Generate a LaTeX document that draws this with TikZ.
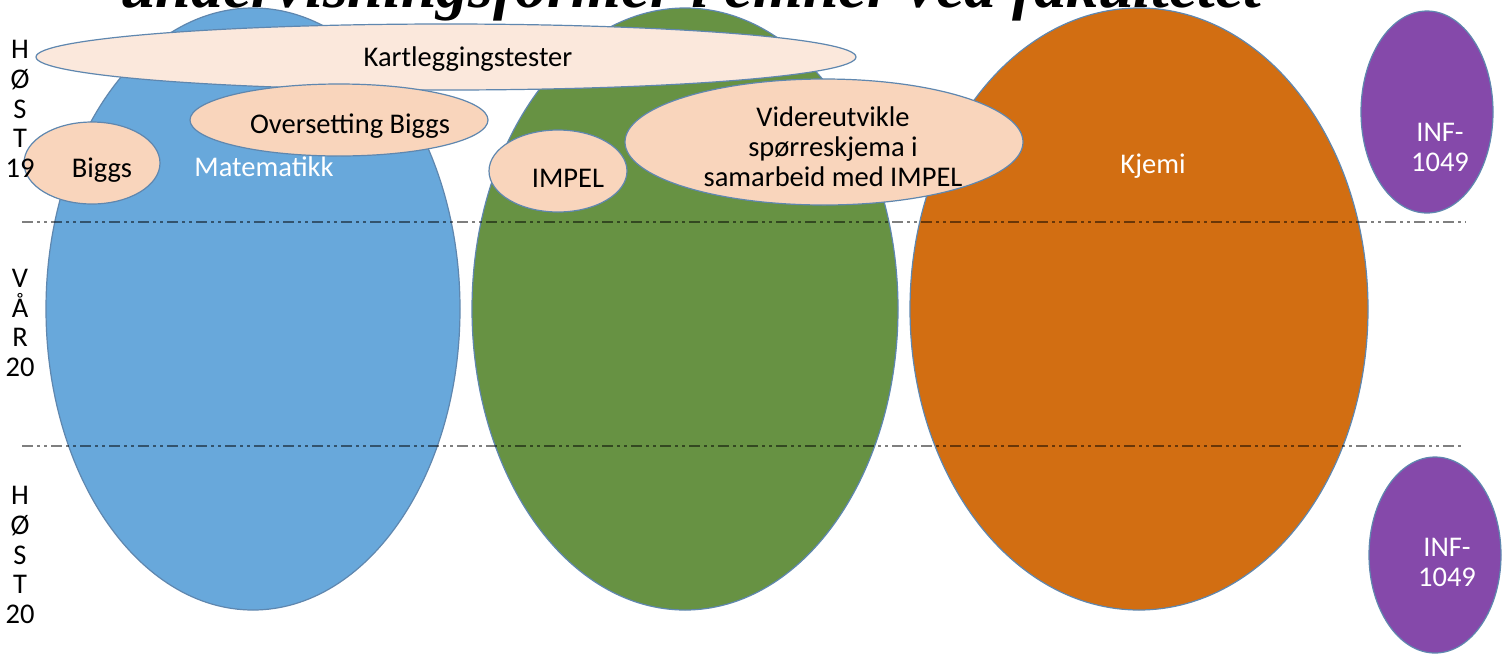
\documentclass[tikz,border=0pt]{standalone}
\usepackage{fontspec}
\setmainfont{Carlito}
\newfontfamily\titlefont[BoldFont={* Bold},ItalicFont={* Italic},BoldItalicFont={* Bold Italic}]{Liberation Serif}
\begin{document}
\begin{tikzpicture}[x=1pt,y=-1pt,
  outl/.style={draw=edgeblue,line width=1.2pt},
  bigoval/.style={outl},
  tag/.style={inner sep=0pt,font=\fontsize{28.5}{30}\selectfont,align=center},
  whitetag/.style={tag,text=white},
  divider/.style={draw=black,draw opacity=0.5,line width=2.6pt,
    dash pattern=on 11pt off 4pt on 3pt off 4pt on 3pt off 4pt},
  semester/.style={inner sep=0pt,font=\fontsize{28.5}{29.7}\selectfont,align=center}]
\definecolor{edgeblue}{RGB}{95,135,175}
\definecolor{mathblue}{RGB}{104,168,219}
\definecolor{impgreen}{RGB}{103,146,67}
\definecolor{kjemorange}{RGB}{210,110,18}
\definecolor{infpurple}{RGB}{133,73,170}
\definecolor{lightpeach}{RGB}{251,232,220}
\definecolor{peach}{RGB}{249,213,188}
\useasboundingbox (0,0) rectangle (1504,657);
\fill[white] (0,0) rectangle (1504,657);

% subject areas
\path[bigoval,fill=mathblue] (253,309) ellipse [x radius=207,y radius=301];
\path[bigoval,fill=impgreen] (685,309) ellipse [x radius=213,y radius=301];
\path[bigoval,fill=kjemorange] (1139,309) ellipse [x radius=229,y radius=301];
\path[bigoval,fill=infpurple] (1427,112) ellipse [x radius=66,y radius=101];
\path[bigoval,fill=infpurple] (1435,555) ellipse [x radius=66,y radius=98];

\node[whitetag] (mat) at (264,167) {Matematikk};
\node[whitetag] (kje) at (1153,166) {Kjemi};
\node[whitetag] (inf1) at (1440,147) {INF-\\1049};
\node[whitetag] (inf2) at (1447,562) {INF-\\1049};

% semester dividers
\coordinate (d1a) at (22,222);
\coordinate (d1b) at (1466,222);
\coordinate (d2a) at (22,446);
\coordinate (d2b) at (1462,446);
\draw[divider] (d1a) -- (d1b);
\draw[divider] (d2a) -- (d2b);

% activities
\path[outl,fill=lightpeach] (446,57) ellipse [x radius=410,y radius=33];
\path[outl,fill=peach] (339,120) ellipse [x radius=149,y radius=36];
\path[outl,fill=peach] (92,163) ellipse [x radius=68,y radius=41];
\path[outl,fill=peach] (558,171) ellipse [x radius=69,y radius=41];
\path[outl,fill=peach] (824,142) ellipse [x radius=199,y radius=63];

\node[tag] (kart) at (468,59) {Kartleggingstester};
\node[tag] (over) at (350,126) {Oversetting Biggs};
\node[tag] (biggs) at (102,170) {Biggs};
\node[tag] (impel) at (568,178) {IMPEL};
\node[tag] (vid) at (833,147) {Videreutvikle\\spørreskjema i\\samarbeid med IMPEL};

% semester labels
\node[semester] (h19) at (20,109) {H\\Ø\\S\\T\\19};
\node[semester] (v20) at (20,323) {V\\Å\\R\\20};
\node[semester] (h20) at (20,555) {H\\Ø\\S\\T\\20};

% heading, cut off by the top edge
\node[inner sep=0pt,anchor=base,font=\titlefont\bfseries\itshape\fontsize{64}{64}\selectfont] (title) at (691,7) {undervisningsformer i emner ved fakultetet};
\end{tikzpicture}
\end{document}
